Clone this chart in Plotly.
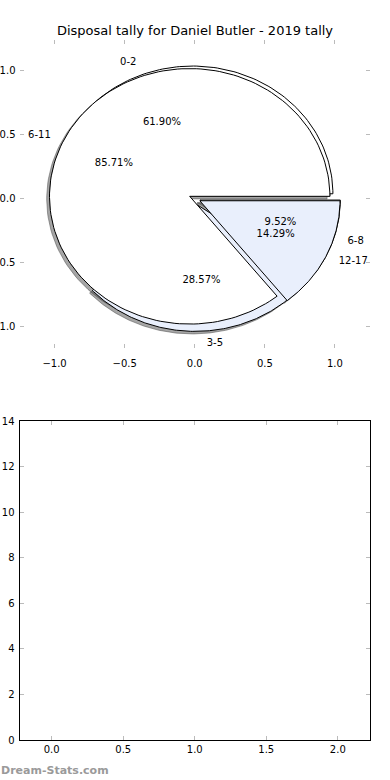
import numpy as np
import plotly.graph_objects as go

TITLE = "Disposal tally for Daniel Butler - 2019 tally"
WATERMARK = "Dream-Stats.com"

# Pie A (drawn first, underneath)
labels_a = ["0-2", "3-5", "6-8"]
values_a = [13, 6, 2]
# Pie B (drawn on top)
labels_b = ["6-11", "12-17"]
values_b = [6, 1]

pie_ticks = [-1.0, -0.5, 0.0, 0.5, 1.0]
bar_x_ticks = [0.0, 0.5, 1.0, 1.5, 2.0]
bar_y_ticks = [0, 2, 4, 6, 8, 10, 12, 14]

WEDGE_COLORS = ["#ffffff", "#e9effc"]
SHADOW = "rgba(77,77,77,0.5)"
EXPLODE = 0.04
FONT = "DejaVu Sans"


def build_wedges(labels, values, explode):
    total = float(sum(values))
    out = []
    t1 = 0.0
    for i, (lab, v) in enumerate(zip(labels, values)):
        frac = v / total
        t2 = t1 + frac * 360.0
        mid = np.deg2rad((t1 + t2) / 2.0)
        cx, cy = explode * np.cos(mid), explode * np.sin(mid)
        t = np.linspace(np.deg2rad(t1), np.deg2rad(t2), 160)
        xs = np.concatenate([[cx], cx + np.cos(t), [cx]])
        ys = np.concatenate([[cy], cy + np.sin(t), [cy]])
        out.append(dict(
            label=lab, pct=frac * 100, xs=xs, ys=ys,
            color=WEDGE_COLORS[i % len(WEDGE_COLORS)],
            lx=cx + 1.1 * np.cos(mid), ly=cy + 1.1 * np.sin(mid),
            px=cx + 0.6 * np.cos(mid), py=cy + 0.6 * np.sin(mid),
        ))
        t1 = t2
    return out


wa = build_wedges(labels_a, values_a, EXPLODE)
wb = build_wedges(labels_b, values_b, EXPLODE)

fig = go.Figure()

# shadows (below all wedges)
for w in wa + wb:
    fig.add_trace(go.Scatter(
        x=w["xs"] - 0.02, y=w["ys"] - 0.02, mode="lines", fill="toself",
        fillcolor=SHADOW, line=dict(color=SHADOW, width=1),
        hoverinfo="skip", showlegend=False, xaxis="x", yaxis="y"))

# wedges
for w in wa + wb:
    fig.add_trace(go.Scatter(
        x=w["xs"], y=w["ys"], mode="lines", fill="toself",
        fillcolor=w["color"], line=dict(color="black", width=1),
        hoverinfo="skip", showlegend=False, xaxis="x", yaxis="y"))

# labels and percentages
for w in wa + wb:
    pos = "middle right" if w["lx"] > 0 else "middle left"
    fig.add_trace(go.Scatter(
        x=[w["lx"]], y=[w["ly"]], mode="text", text=[w["label"]],
        textposition=pos, textfont=dict(family=FONT, size=10, color="black"),
        hoverinfo="skip", showlegend=False, xaxis="x", yaxis="y"))
    fig.add_trace(go.Scatter(
        x=[w["px"]], y=[w["py"]], mode="text", text=["%.2f%%" % w["pct"]],
        textposition="middle center",
        textfont=dict(family=FONT, size=10, color="black"),
        hoverinfo="skip", showlegend=False, xaxis="x", yaxis="y"))

# empty bottom axes
fig.add_trace(go.Scatter(x=[], y=[], mode="markers", showlegend=False,
                         xaxis="x2", yaxis="y2"))

W, H = 390, 780
L, R = 19.5, 370
tick_common = dict(ticks="inside", ticklen=4, tickcolor="#bbbbbb", tickwidth=1,
                   showgrid=False, zeroline=False, automargin=False,
                   tickfont=dict(family=FONT, size=10, color="black"))

fig.update_layout(
    width=W, height=H, margin=dict(l=0, r=0, t=0, b=0, autoexpand=False),
    paper_bgcolor="white", plot_bgcolor="white",
    font=dict(family=FONT, size=10, color="black"),
    title=dict(text=TITLE, x=0.5, xanchor="center", y=1 - 30 / H, yanchor="middle",
               font=dict(family=FONT, size=13, color="black")),
    xaxis=dict(domain=[L / W, R / W], range=[-1.25, 1.25], anchor="y",
               tickvals=pie_ticks, tickformat=".1f", showline=False,
               mirror="ticks", ticklabelstandoff=8, **tick_common),
    yaxis=dict(domain=[1 - 348 / H, 1 - 39.5 / H], range=[-1.17, 1.245], anchor="x",
               tickvals=pie_ticks, tickformat=".1f", showline=False,
               mirror="ticks", ticklabelstandoff=3, **tick_common),
    xaxis2=dict(domain=[L / W, R / W], range=[-0.225, 2.225], anchor="y2",
                tickvals=bar_x_ticks, tickformat=".1f", showline=True,
                linecolor="black", linewidth=1, mirror="ticks", **tick_common),
    yaxis2=dict(domain=[1 - 740 / H, 1 - 421 / H], range=[0, 14], anchor="x2",
                tickvals=bar_y_ticks, showline=True, ticklabelstandoff=2,
                linecolor="black", linewidth=1, mirror="ticks", **tick_common),
    annotations=[dict(text="<b>" + WATERMARK + "</b>", xref="paper", yref="paper",
                      x=0, y=1 - 770 / H,
                      xanchor="left", yanchor="middle", showarrow=False, xshift=-1,
                      font=dict(family=FONT, size=11, color="#9a9a9a"))],
)

fig.write_html("out.html")
